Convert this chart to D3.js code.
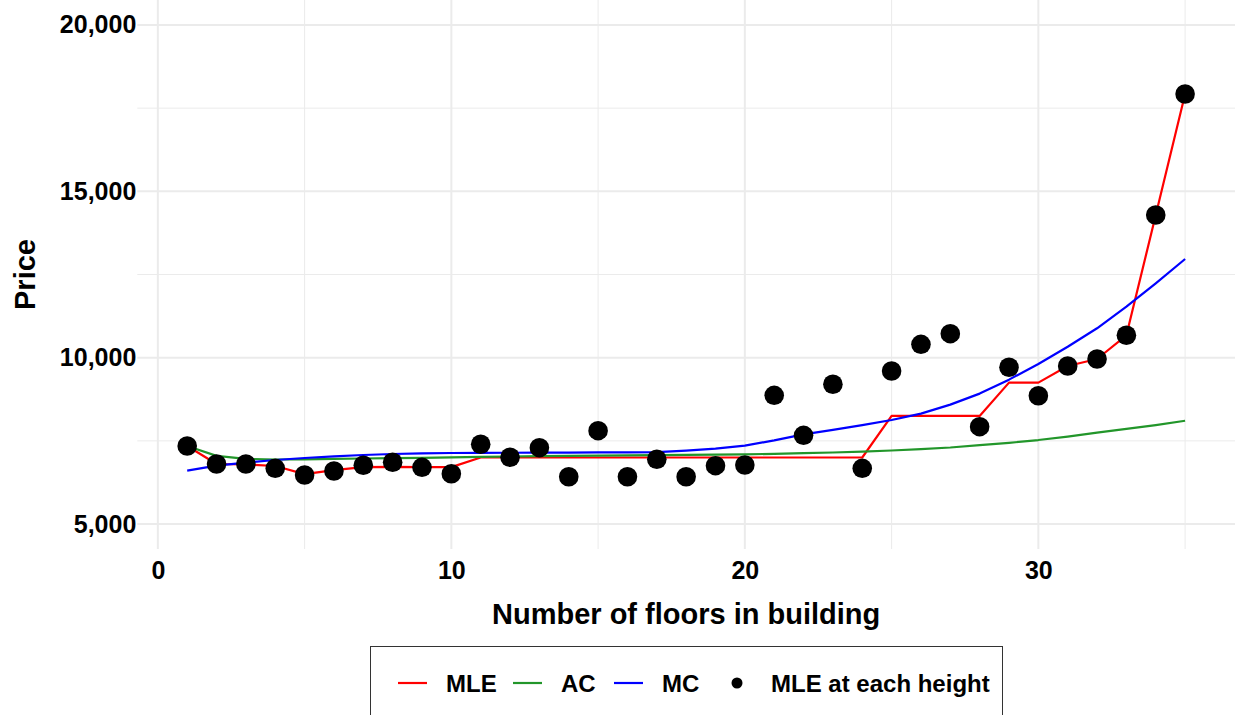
<!DOCTYPE html>
<html>
<head>
<meta charset="utf-8">
<script src="https://cdn.jsdelivr.net/npm/d3@7"></script>
<style>
  html, body { margin: 0; padding: 0; background: #fff; }
  svg { display: block; font-family: "Liberation Sans", Arial, Helvetica, sans-serif; }
</style>
</head>
<body>
<svg id="chart" width="1238" height="715"></svg>
<script>
// Number of floors in the building
const floors = d3.range(1, 36);

// MLE of price at each building height (points)
const mlePoints = [7346, 6805, 6805, 6675, 6474, 6594, 6766, 6856, 6705, 6513,
                   7397, 7006, 7295, 6423, 7806, 6423, 6946, 6423, 6754, 6775,
                   8869, 7667, 9200, 6675, 9600, 10402, 10721, 7926, 9711, 8857,
                   9750, 9960, 10673, 14288, 17925];

// Constrained MLE (red line)
const mleLine = [7346, 6805, 6790, 6745, 6500, 6620, 6710, 6720, 6710, 6710,
                 7000, 7000, 7000, 7000, 7000, 7000, 7000, 7000, 7000, 7000,
                 7000, 7000, 7000, 7000, 8250, 8250, 8250, 8250, 9250, 9250,
                 9750, 9960, 10673, 14288, 17925];

// Average cost (green line)
const acLine = [7346, 7050, 6960, 6940, 6945, 6960, 6970, 6980, 6990, 7005,
                7020, 7030, 7040, 7048, 7055, 7062, 7070, 7078, 7086, 7095,
                7110, 7130, 7150, 7175, 7210, 7250, 7300, 7370, 7440, 7525,
                7630, 7745, 7860, 7975, 8105];

// Marginal cost (blue line)
const mcLine = [6603, 6754, 6844, 6925, 6985, 7036, 7075, 7105, 7126, 7135,
                7140, 7143, 7146, 7149, 7152, 7155, 7160, 7204, 7264, 7355,
                7515, 7697, 7830, 7975, 8127, 8320, 8590, 8920, 9340, 9810,
                10330, 10883, 11532, 12236, 12966];

const xTicks = [0, 10, 20, 30];
const xMinor = [5, 15, 25, 35];
const yTicks = [5000, 10000, 15000, 20000];
const yMinor = [7500, 12500, 17500];

const legendItems = [
  { label: "MLE", color: "#ff0000", type: "line" },
  { label: "AC", color: "#22962a", type: "line" },
  { label: "MC", color: "#0000ff", type: "line" },
  { label: "MLE at each height", color: "#000000", type: "point" }
];

const svg = d3.select("#chart");
const panel = { left: 137.3, right: 1235, top: 0, bottom: 549 };

const x = d3.scaleLinear().domain([-0.7, 36.7]).range([panel.left, panel.right]);
const y = d3.scaleLinear().domain([4250, 20750]).range([panel.bottom, panel.top]);

const grid = svg.append("g");
// minor grid
grid.selectAll(".xmin").data(xMinor).join("line")
  .attr("x1", d => x(d)).attr("x2", d => x(d))
  .attr("y1", panel.top).attr("y2", panel.bottom)
  .attr("stroke", "#ebebeb").attr("stroke-width", 1);
grid.selectAll(".ymin").data(yMinor).join("line")
  .attr("x1", panel.left).attr("x2", panel.right)
  .attr("y1", d => y(d)).attr("y2", d => y(d))
  .attr("stroke", "#ebebeb").attr("stroke-width", 1);
// major grid
grid.selectAll(".xmaj").data(xTicks).join("line")
  .attr("x1", d => x(d)).attr("x2", d => x(d))
  .attr("y1", panel.top).attr("y2", panel.bottom)
  .attr("stroke", "#ebebeb").attr("stroke-width", 2);
grid.selectAll(".ymaj").data(yTicks).join("line")
  .attr("x1", panel.left).attr("x2", panel.right)
  .attr("y1", d => y(d)).attr("y2", d => y(d))
  .attr("stroke", "#ebebeb").attr("stroke-width", 2);

// axes (labels only)
const xAxis = svg.append("g")
  .attr("transform", `translate(0,${panel.bottom + 6})`)
  .call(d3.axisBottom(x).tickValues(xTicks).tickSize(0).tickPadding(6).tickFormat(d3.format("d")));
xAxis.select(".domain").remove();
xAxis.selectAll("text")
  .attr("fill", "#000").style("font-size", "25px").style("font-weight", "bold")
  .style("font-family", "Liberation Sans, Arial, sans-serif");

const yAxis = svg.append("g")
  .attr("transform", `translate(${panel.left - 1},0)`)
  .call(d3.axisLeft(y).tickValues(yTicks).tickSize(0).tickPadding(0).tickFormat(d3.format(",")));
yAxis.select(".domain").remove();
yAxis.selectAll("text")
  .attr("fill", "#000").style("font-size", "25px").style("font-weight", "bold")
  .style("font-family", "Liberation Sans, Arial, sans-serif");

// axis titles
svg.append("text")
  .attr("x", (panel.left + panel.right) / 2).attr("y", 624)
  .attr("text-anchor", "middle")
  .style("font-size", "29px").style("font-weight", "bold")
  .text("Number of floors in building");
svg.append("text")
  .attr("transform", `translate(35,${(panel.top + panel.bottom) / 2}) rotate(-90)`)
  .attr("text-anchor", "middle")
  .style("font-size", "29px").style("font-weight", "bold")
  .text("Price");

// lines
const seriesLines = [
  { values: mleLine, color: "#ff0000" },
  { values: acLine, color: "#22962a" },
  { values: mcLine, color: "#0000ff" }
];
const line = d3.line().x((d, i) => x(floors[i])).y(d => y(d));
svg.append("g").selectAll("path").data(seriesLines).join("path")
  .attr("d", d => line(d.values))
  .attr("fill", "none")
  .attr("stroke", d => d.color)
  .attr("stroke-width", 2.2)
  .attr("stroke-linejoin", "round");

// points
svg.append("g").selectAll("circle").data(mlePoints).join("circle")
  .attr("cx", (d, i) => x(floors[i]))
  .attr("cy", d => y(d))
  .attr("r", 9.8)
  .attr("fill", "#000");

// legend
const legend = svg.append("g");
legend.append("rect")
  .attr("x", 370.5).attr("y", 646.5).attr("width", 632).attr("height", 100)
  .attr("fill", "#fff").attr("stroke", "#333").attr("stroke-width", 1);

const legendX = [398, 513, 614, 723];
const legendY = 683;
legendItems.forEach((it, i) => {
  const gx = legendX[i];
  if (it.type === "line") {
    legend.append("line")
      .attr("x1", gx).attr("x2", gx + 29)
      .attr("y1", legendY).attr("y2", legendY)
      .attr("stroke", it.color).attr("stroke-width", 2.2);
  } else {
    legend.append("circle")
      .attr("cx", gx + 14).attr("cy", legendY).attr("r", 5.5).attr("fill", it.color);
  }
  legend.append("text")
    .attr("x", gx + 48).attr("y", legendY)
    .attr("dy", "0.36em")
    .style("font-size", "24px").style("font-weight", "bold")
    .text(it.label);
});
</script>
</body>
</html>
